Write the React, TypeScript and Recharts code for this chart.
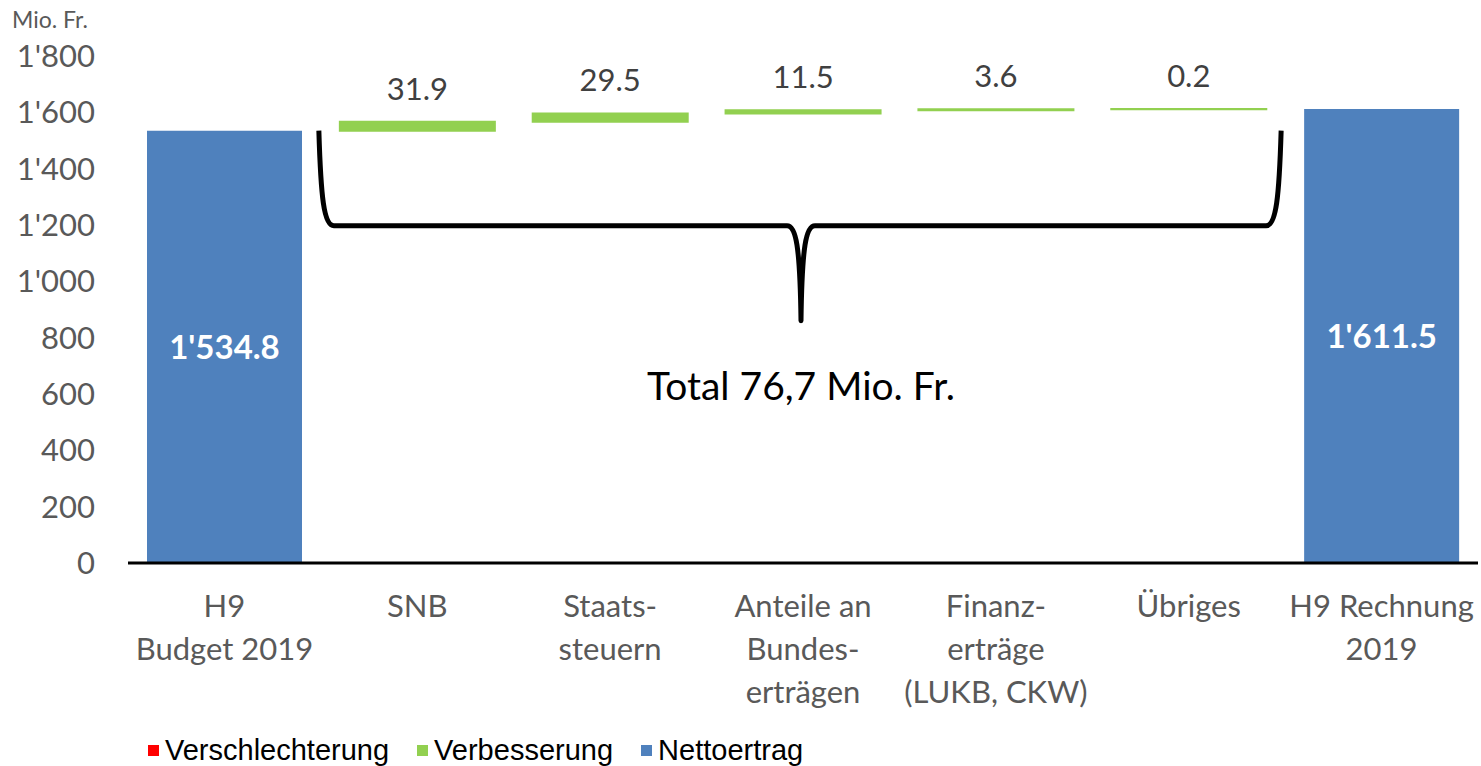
import { Bar, BarChart, LabelList, ReferenceArea, XAxis, YAxis } from "recharts";

const categories = [
  "H9\nBudget 2019",
  "SNB",
  "Staats-\nsteuern",
  "Anteile an\nBundes-\nerträgen",
  "Finanz-\nerträge\n(LUKB, CKW)",
  "Übriges",
  "H9 Rechnung\n2019",
];
const nettoertrag = [1534.8, null, null, null, null, null, 1611.5];
const verbesserung = [null, 31.9, 29.5, 11.5, 3.6, 0.2, null];
const verschlechterung = [null, null, null, null, null, null, null];
const yTicks = [0, 200, 400, 600, 800, 1000, 1200, 1400, 1600, 1800];
const totalText = "Total 76,7 Mio. Fr.";
const braceRange = [860, 1535];

const COLORS = { down: "#FF0000", up: "#92D050", net: "#4F81BD" };
const legendItems = [
  { label: "Verschlechterung", color: COLORS.down },
  { label: "Verbesserung", color: COLORS.up },
  { label: "Nettoertrag", color: COLORS.net },
];

const FONT = "Lato, 'Open Sans', sans-serif";

// waterfall: hidden base = running total before each step
let running = nettoertrag[0] as number;
const data = categories.map((name, i) => {
  const up = verbesserung[i];
  const down = verschlechterung[i];
  let base: number | null = null;
  if (nettoertrag[i] == null) {
    base = down != null ? running - down : running;
    running = running + (up ?? 0) - (down ?? 0);
  }
  return { name, base, down, up, net: nettoertrag[i] };
});

const fmtThousands = (v: number, decimals = 0) => {
  const s = v.toFixed(decimals);
  const [int, dec] = s.split(".");
  const withSep = int.replace(/\B(?=(\d{3})+(?!\d))/g, "'");
  return dec ? `${withSep}.${dec}` : withSep;
};

const CategoryTick = ({ x, y, payload }: any) => {
  const lines = String(payload.value).split("\n");
  return (
    <text x={x} y={y} textAnchor="middle" fill="#595959" fontSize={31} fontFamily={FONT}>
      {lines.map((l, i) => (
        <tspan key={i} x={x} dy={i === 0 ? 46 : 43}>
          {l}
        </tspan>
      ))}
    </text>
  );
};

const Brace = ({ x, y, width, height }: any) => {
  const top = y;
  const bottom = y + height;
  const mid = y + height / 2;
  const left = x - 2;
  const right = x + width - 4;
  const cx = x + width / 2 - 2;
  const d = [
    `M ${left} ${top}`,
    `C ${left + 2} ${top + (mid - top) * 0.7}, ${left + 5} ${mid}, ${left + 15} ${mid}`,
    `L ${cx - 14} ${mid}`,
    `C ${cx - 5} ${mid}, ${cx - 1} ${mid + 20}, ${cx} ${bottom}`,
    `C ${cx + 1} ${mid + 20}, ${cx + 5} ${mid}, ${cx + 14} ${mid}`,
    `L ${right - 15} ${mid}`,
    `C ${right - 5} ${mid}, ${right - 2} ${top + (mid - top) * 0.7}, ${right} ${top}`,
  ].join(" ");
  return (
    <g>
      <path d={d} fill="none" stroke="#000" strokeWidth={5} strokeLinejoin="round" />
      <text
        x={cx}
        y={bottom + 64}
        textAnchor="middle"
        dominantBaseline="central"
        fontSize={39}
        fontFamily={FONT}
        fill="#000"
      >
        {totalText}
      </text>
    </g>
  );
};

export default function App() {
  return (
    <div style={{ position: "absolute", left: 0, top: 0, width: 1481, height: 766, background: "#fff" }}>
      <div
        style={{
          position: "absolute",
          left: 12,
          top: 5,
          fontFamily: FONT,
          fontSize: 23,
          color: "#595959",
        }}
      >
        Mio. Fr.
      </div>
      <BarChart width={1481} height={766} data={data} margin={{ top: 56, right: 3, left: 0, bottom: 173 }}>
        <XAxis
          dataKey="name"
          interval={0}
          tickLine={false}
          axisLine={{ stroke: "#000", strokeWidth: 3 }}
          tick={<CategoryTick />}
        />
        <YAxis
          width={128}
          domain={[0, 1800]}
          ticks={yTicks}
          axisLine={false}
          tickLine={false}
          tickMargin={27}
          tick={{ fill: "#595959", fontSize: 31, fontFamily: FONT }}
          tickFormatter={(v: number) => fmtThousands(v)}
        />
        <Bar dataKey="base" stackId="w" fill="transparent" legendType="none" isAnimationActive={false} barSize={155} />
        <Bar dataKey="down" stackId="w" name="Verschlechterung" fill={COLORS.down} isAnimationActive={false} barSize={155} />
        <Bar
          dataKey="up"
          stackId="w"
          name="Verbesserung"
          fill={COLORS.up}
          stroke={COLORS.up}
          strokeWidth={2}
          isAnimationActive={false}
          barSize={155}
        >
          <LabelList
            dataKey="up"
            position="top"
            offset={22}
            fill="#404040"
            fontSize={31}
            fontFamily={FONT}
            formatter={(v: any) => (v == null ? "" : Number(v).toFixed(1))}
          />
        </Bar>
        <Bar dataKey="net" stackId="w" name="Nettoertrag" fill={COLORS.net} isAnimationActive={false} barSize={155}>
          <LabelList
            dataKey="net"
            position="center"
            fill="#fff"
            fontSize={33}
            fontWeight="bold"
            fontFamily={FONT}
            formatter={(v: any) => (v == null ? "" : fmtThousands(Number(v), 1))}
          />
        </Bar>
        <ReferenceArea
          x1={categories[1]}
          x2={categories[5]}
          y1={braceRange[0]}
          y2={braceRange[1]}
          ifOverflow="visible"
          shape={(props: any) => <Brace {...props} />}
        />
      </BarChart>
      <div
        style={{
          position: "absolute",
          left: 148,
          top: 734,
          display: "flex",
          gap: 28,
          fontFamily: "'Liberation Sans', Arial, sans-serif",
          fontSize: 29,
          color: "#000",
        }}
      >
        {legendItems.map((it) => (
          <div key={it.label} style={{ display: "flex", alignItems: "center", gap: 6 }}>
            <span style={{ width: 11, height: 11, background: it.color, display: "inline-block" }} />
            <span style={{ lineHeight: "32px" }}>{it.label}</span>
          </div>
        ))}
      </div>
    </div>
  );
}
